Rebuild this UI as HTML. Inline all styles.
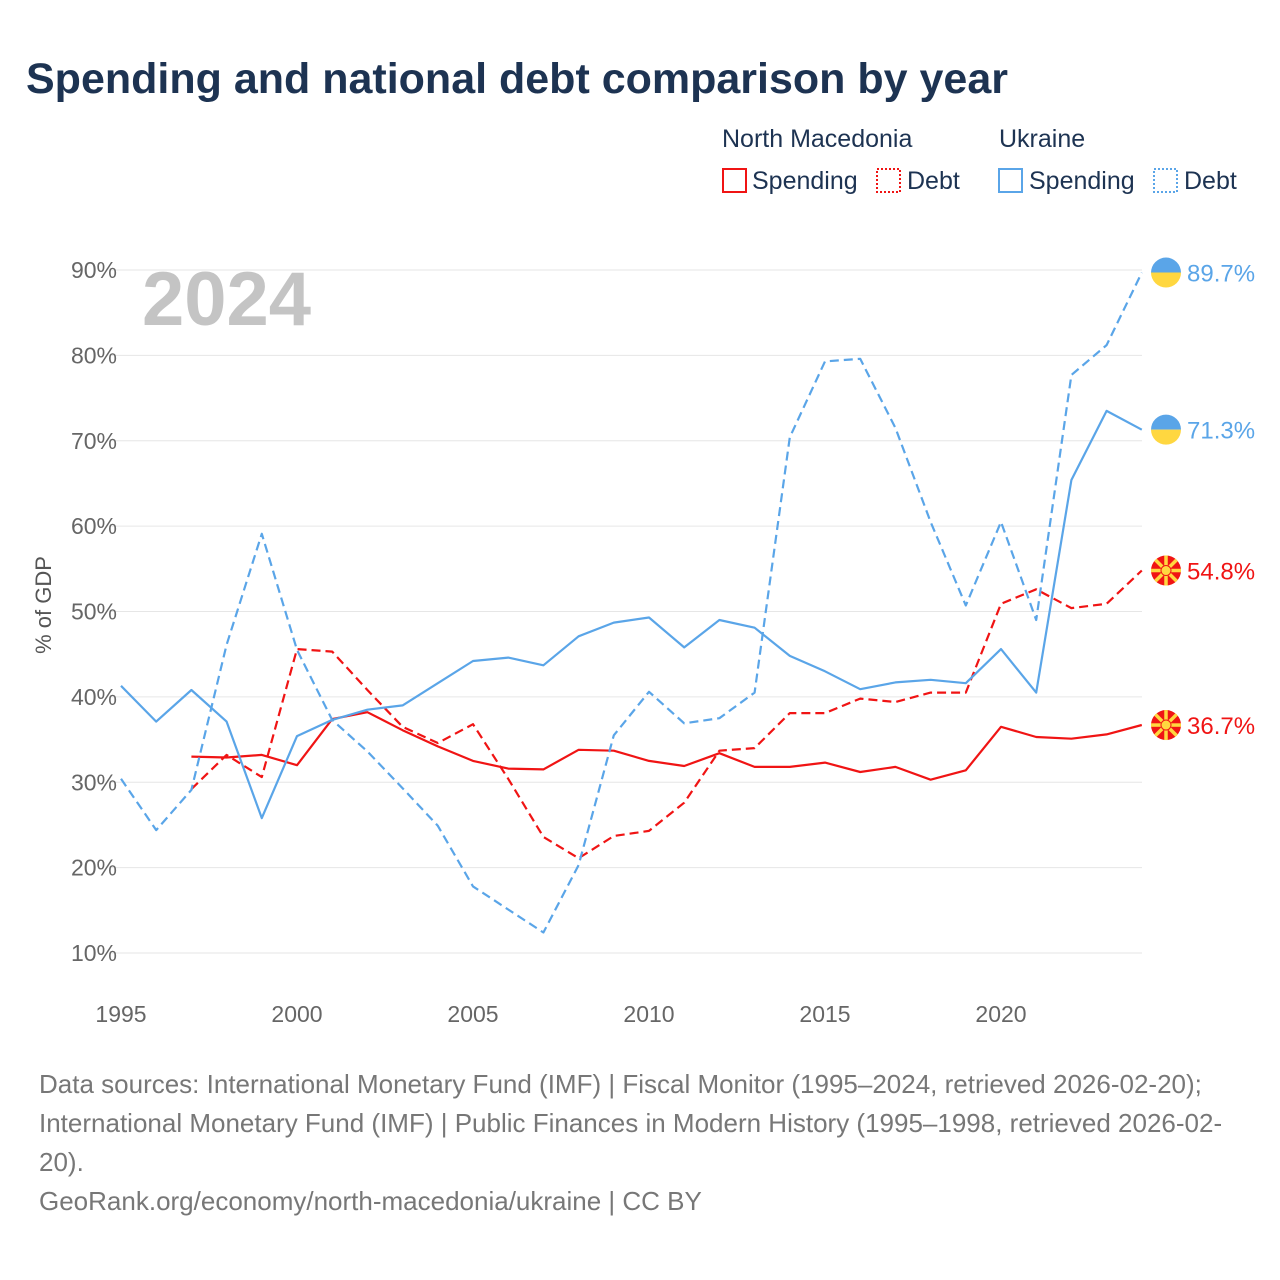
<!DOCTYPE html>
<html><head><meta charset="utf-8">
<style>
body{margin:0;background:#fff;font-family:"Liberation Sans",sans-serif;}
#wrap{position:relative;width:1280px;height:1280px;overflow:hidden;background:#fff;}
</style></head>
<body>
<div id="wrap">
<svg id="chart" width="1280" height="1280">
<text x="26" y="93" font-size="43" font-weight="bold" fill="#1d3352">Spending and national debt comparison by year</text>
<g font-size="25" fill="#1d3352">
<text x="722" y="147">North Macedonia</text>
<text x="999" y="147">Ukraine</text>
<rect x="723" y="169" width="23" height="23" fill="none" stroke="#f01414" stroke-width="2"/>
<text x="752" y="189">Spending</text>
<rect x="877" y="169" width="23" height="23" fill="none" stroke="#f01414" stroke-width="2" stroke-dasharray="2,2"/>
<text x="907" y="189">Debt</text>
<rect x="999" y="169" width="23" height="23" fill="none" stroke="#5aa5e8" stroke-width="2"/>
<text x="1029" y="189">Spending</text>
<rect x="1154" y="169" width="23" height="23" fill="none" stroke="#5aa5e8" stroke-width="2" stroke-dasharray="2,2"/>
<text x="1184" y="189">Debt</text>
</g>
<text x="142" y="325" font-size="76" font-weight="bold" fill="#c4c4c4">2024</text>
<text transform="translate(51,605) rotate(-90)" text-anchor="middle" font-size="22" fill="#555">% of GDP</text>
<g id="grid"></g><g id="series"></g><g id="ends"></g>
<g font-size="26" fill="#777">
<text x="39" y="1093">Data sources: International Monetary Fund (IMF) | Fiscal Monitor (1995–2024, retrieved 2026-02-20);</text>
<text x="39" y="1132">International Monetary Fund (IMF) | Public Finances in Modern History (1995–1998, retrieved 2026-02-</text>
<text x="39" y="1171">20).</text>
<text x="39" y="1210">GeoRank.org/economy/north-macedonia/ukraine | CC BY</text>
</g>
</svg>
</div>
<script>
const years = [];
for (let y = 1995; y <= 2024; y++) years.push(y);
const yTicks = [10,20,30,40,50,60,70,80,90];
const xTicks = [1995,2000,2005,2010,2015,2020];
const uaSpending = [41.3,37.1,40.8,37.1,25.8,35.4,37.3,38.5,39.0,41.6,44.2,44.6,43.7,47.1,48.7,49.3,45.8,49.0,48.1,44.8,43.0,40.9,41.7,42.0,41.6,45.6,40.5,65.4,73.5,71.3];
const uaDebt = [30.4,24.4,29.1,46.1,59.1,45.5,37.3,33.6,29.3,24.9,17.8,15.1,12.4,20.3,35.5,40.6,36.9,37.5,40.5,70.4,79.3,79.6,71.5,60.5,50.7,60.5,49.0,77.7,81.2,89.7];
const mkSpending = [null,null,33.0,32.9,33.2,32.0,37.4,38.2,36.1,34.2,32.5,31.6,31.5,33.8,33.7,32.5,31.9,33.4,31.8,31.8,32.3,31.2,31.8,30.3,31.4,36.5,35.3,35.1,35.6,36.7];
const mkDebt = [null,null,29.2,33.2,30.6,45.6,45.3,40.8,36.5,34.6,36.8,30.4,23.6,21.1,23.7,24.3,27.6,33.7,34.0,38.1,38.1,39.8,39.4,40.5,40.5,50.9,52.6,50.4,50.9,54.8];

const NS='http://www.w3.org/2000/svg';
const X = y => 121 + (y-1995)*35.2;
const Y = v => 270 + (90-v)*8.5375;
function mk(tag, at, parent){const e=document.createElementNS(NS,tag);for(const k in at)e.setAttribute(k,at[k]);parent.appendChild(e);return e;}
const grid=document.getElementById('grid');
yTicks.forEach(t=>{
  const l=mk('line',{x1:110,x2:1142,y1:Y(t),y2:Y(t),stroke:'#e6e6e6','stroke-width':1},grid);
  
  
  const tx=mk('text',{x:117,y:Y(t)+8,'text-anchor':'end','font-size':23,fill:'#666'},grid);
  tx.textContent=t+'%';
  
  
});
xTicks.forEach(t=>{
  const tx=mk('text',{x:X(t),y:1022,'text-anchor':'middle','font-size':23,fill:'#666'},grid);
  tx.textContent=t;
  
  
});
const ser=document.getElementById('series');
function line(data,color,dash,name){
  let d='';
  data.forEach((v,i)=>{if(v==null)return;d+=(d?'L':'M')+X(years[i]).toFixed(1)+','+Y(v).toFixed(1);});
  const p=mk('path',{d:d,fill:'none',stroke:color,'stroke-width':2.2,'stroke-linejoin':'round'},ser);
  if(dash)p.setAttribute('stroke-dasharray','9,5');
  
  
}
line(mkDebt,'#f01414',true,'line-mk-debt');
line(mkSpending,'#f01414',false,'line-mk-spending');
line(uaDebt,'#5aa5e8',true,'line-ua-debt');
line(uaSpending,'#5aa5e8',false,'line-ua-spending');
const ends=document.getElementById('ends');
function endMark(v,country,name){
  const cx=1166,cy=Y(v),r=15;
  const g=mk('g',{},ends);
  
  
  if(country==='ua'){
    mk('path',{d:`M${cx-r},${cy}A${r},${r} 0 0 1 ${cx+r},${cy}Z`,fill:'#5aa5e8'},g);
    mk('path',{d:`M${cx-r},${cy}A${r},${r} 0 0 0 ${cx+r},${cy}Z`,fill:'#ffd740'},g);
  } else {
    mk('circle',{cx:cx,cy:cy,r:r,fill:'#f01414'},g);
    for(let k=0;k<8;k++){const a=k*Math.PI/4;
      mk('line',{x1:cx,y1:cy,x2:cx+r*Math.cos(a),y2:cy+r*Math.sin(a),stroke:'#ffd740','stroke-width':3.5},g);}
    mk('circle',{cx:cx,cy:cy,r:5,fill:'#ffd740',stroke:'#f01414','stroke-width':1},g);
  }
  const t=mk('text',{x:1187,y:cy+9,'font-size':24,fill:country==='ua'?'#5aa5e8':'#f01414'},ends);
  t.textContent=v.toFixed(1)+'%';
  
  
}
endMark(uaDebt[uaDebt.length-1],'ua','end-ua-debt');
endMark(uaSpending[uaSpending.length-1],'ua','end-ua-spending');
endMark(mkDebt[mkDebt.length-1],'mk','end-mk-debt');
endMark(mkSpending[mkSpending.length-1],'mk','end-mk-spending');
</script>
</body></html>
